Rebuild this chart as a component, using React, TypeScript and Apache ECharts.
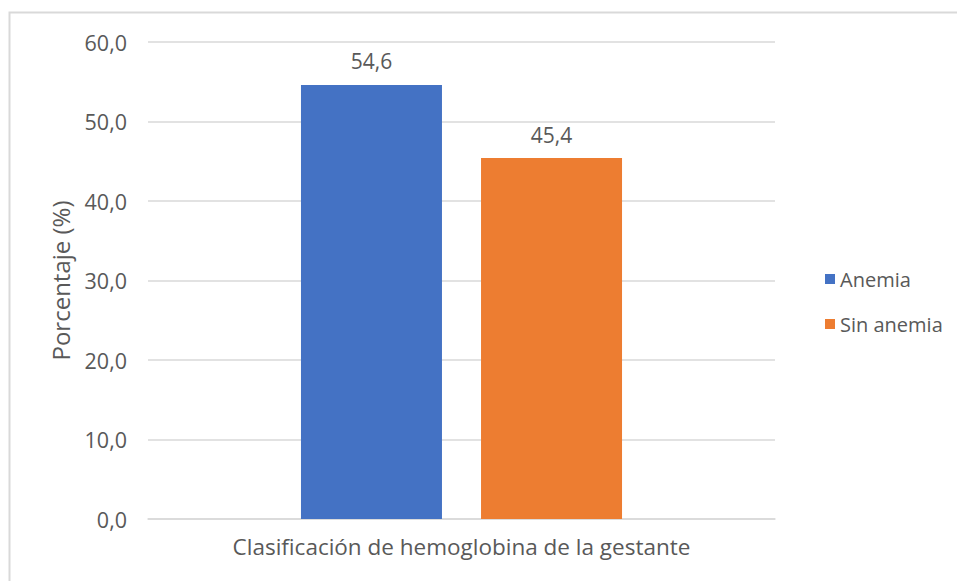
import React, { useEffect, useRef } from "react";
import * as echarts from "echarts";

const categories = ["Clasificación de hemoglobina de la gestante"];
const anemia = [54.6];
const sinAnemia = [45.4];
const seriesNames = ["Anemia", "Sin anemia"];
const yAxisName = "Porcentaje (%)";

const FONT = "'Open Sans', 'Liberation Sans', sans-serif";
const TXT = "#595959";

export default function App() {
  const ref = useRef<HTMLDivElement>(null);
  useEffect(() => {
    if (!ref.current) return;
    const chart = echarts.init(ref.current, null, { renderer: "svg" });
    const fmt = (v: number) => v.toFixed(1).replace(".", ",");
    const labelStyle = {
      show: true,
      position: "top",
      distance: 13,
      color: TXT,
      fontSize: 21,
      fontFamily: FONT,
      formatter: (p: any) => fmt(p.value),
    };
    chart.setOption({
      animation: false,
      backgroundColor: "#ffffff",
      textStyle: { fontFamily: FONT },
      graphic: [
        {
          type: "rect",
          shape: { x: 9.5, y: 12.5, width: 1000, height: 1000 },
          style: { fill: "none", stroke: "#D9D9D9", lineWidth: 2 },
          silent: true,
        },
      ],
      grid: { left: 148, right: 182, top: 42, bottom: 62, containLabel: false },
      legend: {
        orient: "vertical",
        left: 820,
        top: 264,
        itemWidth: 10,
        itemHeight: 10,
        itemGap: 25,
        icon: "rect",
        textStyle: { color: TXT, fontSize: 20, fontFamily: FONT },
        data: seriesNames,
      },
      xAxis: {
        type: "category",
        data: categories,
        axisLine: { lineStyle: { color: "#D9D9D9", width: 1.5 } },
        axisTick: { show: false },
        axisLabel: { color: TXT, fontSize: 22.5, margin: 16, fontFamily: FONT },
      },
      yAxis: {
        type: "value",
        min: 0,
        max: 60,
        interval: 10,
        name: yAxisName,
        nameLocation: "middle",
        nameGap: 76,
        nameTextStyle: { color: TXT, fontSize: 24, fontFamily: FONT },
        axisLine: { show: false },
        axisTick: { show: false },
        axisLabel: { color: TXT, fontSize: 21.5, margin: 21, formatter: fmt, fontFamily: FONT },
        splitLine: { lineStyle: { color: "#D9D9D9", width: 1.5 } },
      },
      series: [
        {
          name: seriesNames[0],
          type: "bar",
          data: anemia,
          barWidth: 141,
          barGap: "27.7%",
          itemStyle: { color: "#4472C4" },
          label: labelStyle,
        },
        {
          name: seriesNames[1],
          type: "bar",
          data: sinAnemia,
          barWidth: 141,
          barGap: "27.7%",
          itemStyle: { color: "#ED7D31" },
          label: labelStyle,
        },
      ],
    });
    return () => chart.dispose();
  }, []);
  return (
    <div
      ref={ref}
      style={{ position: "absolute", left: 0, top: 0, width: 957, height: 581 }}
    />
  );
}
